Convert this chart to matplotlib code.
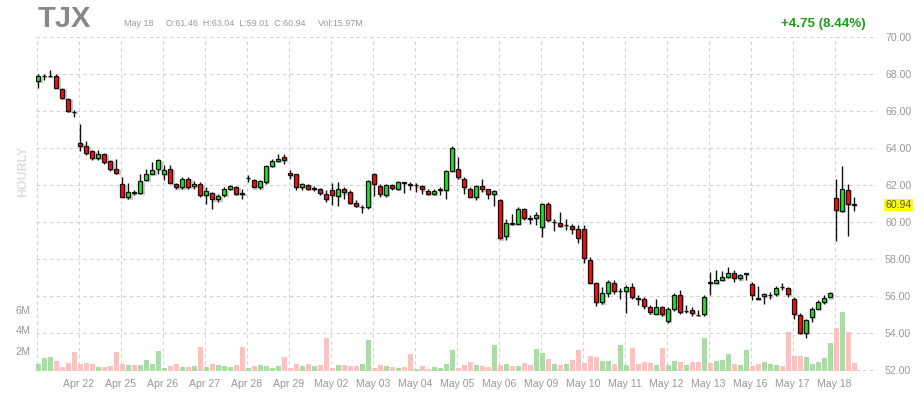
import numpy as np
import matplotlib.pyplot as plt
import matplotlib.transforms as mtransforms

plt.rcParams['font.family'] = ['Liberation Sans', 'DejaVu Sans']

# hourly candles, 7 per session (last session has 4)
days = ['Apr 21', 'Apr 22', 'Apr 25', 'Apr 26', 'Apr 27', 'Apr 28', 'Apr 29',
        'May 02', 'May 03', 'May 04', 'May 05', 'May 06', 'May 09', 'May 10',
        'May 11', 'May 12', 'May 13', 'May 16', 'May 17', 'May 18']
bars_per_day = 7

opens = [67.62, 67.90, 67.90, 67.91, 67.23, 66.69, 65.98,
         64.29, 64.11, 63.84, 63.48, 63.71, 63.31, 62.86,
         62.05, 61.34, 61.62, 61.59, 62.31, 62.63, 62.88,
         62.63, 62.90, 62.09, 61.88, 62.36, 61.95, 62.09,
         61.46, 61.59, 61.23, 61.46, 61.82, 61.91, 61.56,
         62.38, 62.27, 61.88, 62.18, 63.03, 63.31, 63.53,
         62.68, 62.63, 61.91, 62.00, 61.81, 61.82, 61.51,
         61.73, 61.41, 61.78, 61.64, 61.05, 60.82, 60.83,
         62.63, 61.95, 61.46, 62.00, 61.82, 62.15, 62.05,
         61.99, 61.95, 61.69, 61.51, 61.76, 61.73, 62.77,
         62.90, 62.36, 61.82, 61.37, 61.95, 61.77, 61.51,
         61.19, 59.26, 59.94, 59.93, 60.74, 60.21, 60.25,
         59.75, 61.01, 60.01, 59.98, 59.83, 59.78, 59.62,
         59.62, 57.98, 56.72, 55.66, 56.15, 56.72, 56.28,
         56.29, 56.47, 55.88, 55.84, 55.39, 55.06, 55.39,
         54.66, 55.33, 56.05, 55.20, 55.24, 54.98, 55.06,
         56.75, 56.69, 56.90, 57.04, 57.26, 56.96, 57.22,
         56.65, 55.88, 56.00, 56.04, 56.11, 56.51, 56.42,
         55.82, 54.97, 54.02, 54.88, 55.33, 55.69, 55.93,
         61.30, 60.61, 61.73, 60.96]
highs = [68.04, 68.04, 68.22, 68.00, 67.26, 66.74, 66.05,
         65.34, 64.38, 63.93, 63.89, 63.75, 63.35, 63.41,
         62.42, 62.12, 61.73, 62.63, 62.90, 63.26, 63.44,
         63.08, 63.08, 62.12, 62.45, 62.45, 62.23, 62.18,
         61.91, 61.64, 61.55, 61.91, 62.03, 61.98, 61.77,
         62.54, 62.36, 62.27, 63.08, 63.40, 63.68, 63.68,
         62.81, 62.63, 62.12, 62.09, 61.95, 61.86, 61.73,
         62.12, 62.18, 61.88, 61.73, 61.19, 60.92, 62.27,
         62.66, 62.09, 62.09, 62.09, 62.23, 62.18, 62.18,
         62.12, 62.00, 61.77, 61.77, 61.88, 62.81, 64.11,
         63.53, 62.45, 61.88, 62.00, 62.36, 61.82, 61.73,
         61.28, 60.20, 60.47, 60.83, 60.79, 60.38, 60.56,
         61.05, 61.10, 60.20, 60.56, 60.20, 59.93, 59.84,
         59.84, 58.12, 56.77, 56.50, 56.86, 56.86, 56.42,
         56.59, 56.69, 56.05, 55.96, 55.51, 55.87, 55.46,
         55.39, 56.15, 56.32, 55.51, 55.42, 55.24, 56.05,
         57.31, 57.41, 57.37, 57.58, 57.44, 57.19, 57.26,
         56.77, 56.54, 56.15, 56.23, 56.54, 56.72, 56.50,
         55.96, 55.10, 54.74, 55.42, 55.78, 56.05, 56.23,
         62.36, 63.04, 62.05, 61.34]
lows = [67.28, 67.71, 67.86, 67.25, 66.69, 65.98, 65.69,
        63.85, 63.62, 63.39, 63.35, 63.17, 62.77, 62.59,
        61.34, 61.28, 61.46, 61.55, 62.25, 62.60, 62.63,
        62.27, 62.12, 61.77, 61.82, 61.82, 61.82, 61.37,
        61.01, 60.74, 61.10, 61.37, 61.73, 61.46, 61.28,
        62.18, 61.88, 61.82, 62.09, 62.98, 63.28, 63.17,
        62.36, 61.73, 61.73, 61.73, 61.69, 61.46, 61.10,
        60.92, 60.86, 61.23, 61.00, 60.83, 60.50, 60.74,
        61.41, 61.37, 61.37, 61.73, 61.73, 61.59, 61.73,
        61.64, 61.55, 61.46, 61.46, 61.46, 61.28, 62.77,
        62.36, 61.55, 61.34, 61.19, 61.64, 61.23, 60.86,
        59.10, 59.03, 59.84, 59.89, 60.14, 59.93, 59.84,
        59.20, 60.02, 59.53, 59.75, 59.57, 59.35, 58.85,
        57.77, 56.69, 55.46, 55.57, 55.96, 56.11, 55.87,
        55.10, 55.82, 55.51, 55.33, 55.03, 55.03, 54.92,
        54.52, 55.21, 55.06, 55.10, 54.92, 54.92, 54.92,
        56.05, 56.69, 56.86, 57.00, 56.77, 56.86, 56.90,
        55.78, 55.82, 55.57, 55.87, 56.00, 56.32, 55.96,
        54.79, 53.97, 53.71, 54.61, 55.28, 55.60, 55.93,
        59.01, 60.55, 59.24, 60.61]
closes = [67.89, 67.92, 67.92, 67.28, 66.74, 66.02, 65.96,
          64.11, 63.75, 63.48, 63.71, 63.26, 62.90, 62.66,
          61.37, 61.61, 61.60, 62.23, 62.63, 62.81, 63.35,
          62.85, 62.12, 61.88, 62.36, 61.91, 62.09, 61.46,
          61.69, 61.23, 61.41, 61.77, 61.97, 61.55, 61.54,
          62.40, 61.88, 62.23, 63.03, 63.31, 63.44, 63.39,
          62.58, 61.91, 62.05, 61.82, 61.83, 61.59, 61.28,
          61.46, 61.78, 61.61, 61.05, 60.86, 60.84, 62.23,
          62.09, 61.51, 62.00, 61.86, 62.18, 62.13, 62.03,
          62.01, 61.77, 61.51, 61.67, 61.78, 62.76, 64.04,
          62.42, 61.88, 61.37, 61.95, 61.77, 61.55, 61.67,
          59.12, 59.98, 59.92, 60.69, 60.25, 60.19, 60.38,
          60.96, 60.11, 60.03, 59.80, 59.85, 59.62, 59.17,
          58.09, 56.72, 55.69, 56.15, 56.77, 56.29, 56.30,
          56.47, 55.96, 55.86, 55.46, 55.12, 55.39, 55.01,
          55.28, 56.05, 55.15, 55.22, 55.10, 54.96, 55.96,
          56.73, 56.86, 57.04, 57.26, 56.99, 57.14, 57.24,
          56.08, 55.86, 56.11, 56.06, 56.42, 56.49, 56.11,
          55.03, 54.02, 54.70, 55.28, 55.69, 55.91, 56.18,
          60.65, 61.77, 60.97, 60.94]
volumes = [0.65, 1.24, 1.34, 0.95, 0.36, 0.75, 1.83,
           0.65, 0.75, 0.65, 0.36, 0.36, 0.46, 1.83,
           0.65, 0.56, 0.56, 0.56, 1.05, 0.65, 1.93,
           0.26, 0.46, 0.65, 0.36, 0.36, 0.46, 2.32,
           0.36, 0.65, 0.56, 0.46, 0.36, 0.56, 2.32,
           0.26, 0.46, 0.56, 0.46, 0.26, 0.46, 1.34,
           0.26, 0.65, 0.46, 0.65, 0.46, 0.56, 3.20,
           0.26, 0.56, 0.56, 0.46, 0.46, 0.65, 3.00,
           0.26, 0.56, 0.46, 0.36, 0.26, 0.36, 1.63,
           0.16, 0.46, 0.16, 0.36, 0.26, 0.65, 2.03,
           0.26, 0.56, 0.85, 0.56, 0.46, 0.36, 2.52,
           0.56, 0.65, 0.46, 0.46, 0.75, 0.56, 2.12,
           1.73, 1.14, 0.65, 0.56, 0.65, 1.05, 2.03,
           0.75, 1.44, 1.34, 0.95, 0.95, 0.65, 2.52,
           0.56, 2.22, 0.65, 0.85, 0.75, 0.56, 2.22,
           0.56, 0.95, 0.85, 0.56, 0.85, 0.85, 3.20,
           0.75, 0.95, 1.05, 1.63, 0.65, 0.56, 2.03,
           0.46, 0.65, 0.85, 0.65, 0.56, 0.46, 3.79,
           1.44, 1.44, 1.34, 0.65, 0.85, 1.24, 2.71,
           4.18, 5.75, 3.79, 0.75]

price_ticks = [52, 54, 56, 58, 60, 62, 64, 66, 68, 70]
vol_ticks = [2, 4, 6]
last_price = 60.94

o = np.array(opens)
c = np.array(closes)
h = np.array(highs)
l = np.array(lows)
v = np.array(volumes)
idx = np.arange(len(o))
up = c >= o

fig = plt.figure(figsize=(9.24, 4.0), dpi=100)
rect = [36 / 924, 29 / 400, 841 / 924, 334 / 400]

ax = fig.add_axes(rect)
ax_vol = fig.add_axes(rect, sharex=ax)
ax_vol.patch.set_visible(False)

grid_kw = dict(color='#d2d2d2', linestyle=(0, (3, 3)), linewidth=0.8)

# price panel
ax.set_xlim(-0.38, 139.8)
ax.set_ylim(51.95, 70.02)
ax.set_yticks(price_ticks)
ax.set_yticklabels([f'{t:.2f}' for t in price_ticks])
ax.yaxis.tick_right()
day_pos = [d * bars_per_day - 0.25 for d in range(len(days))]
ax.set_xticks(day_pos)
ax.set_xticklabels([''] + days[1:])
ax.tick_params(length=0, colors='#999999', labelsize=7.6)
ax.tick_params(axis='y', pad=5.8)
ax.tick_params(axis='x', pad=6)
ax.grid(True, **grid_kw)
ax.set_axisbelow(True)
for s in ax.spines.values():
    s.set_visible(False)

# wicks and bodies
ax.vlines(idx, l, h, color='#111111', linewidth=1.0, zorder=3)
body_col = np.where(up, '#22e022', '#ee1111')
ax.bar(idx + 0.18, np.abs(c - o), bottom=np.minimum(o, c) - 0.06, width=0.72,
       color='#c8c8c8', edgecolor='#c8c8c8', linewidth=0.8, zorder=2.5)
ax.bar(idx, np.abs(c - o), bottom=np.minimum(o, c), width=0.72,
       color=body_col, edgecolor='#111111', linewidth=0.9, zorder=4)

# volume panel
vol_col = np.where(up, '#a9dea2', '#ffc0c0')
ax_vol.bar(idx, v, width=0.8, color=vol_col, linewidth=0, zorder=2)
ax_vol.set_ylim(0, 32.75)
ax_vol.set_yticks(vol_ticks)
ax_vol.set_yticklabels([f'{t}M' for t in vol_ticks])
ax_vol.tick_params(length=0, colors='#999999', labelsize=7.8, pad=4)
ax_vol.tick_params(axis='x', labelbottom=False)
for s in ax_vol.spines.values():
    s.set_visible(False)

# last price tag
tr = mtransforms.blended_transform_factory(ax.transAxes, ax.transData)
ax.text(1.0 + 8.5 / 841, last_price, f'{last_price:.2f}', transform=tr,
        ha='left', va='center', fontsize=7.6, color='#555555',
        bbox=dict(boxstyle='square,pad=0.12', facecolor='#ffff00', edgecolor='none'))

# header
fig.text(38 / 924, 1 - 19 / 400, 'TJX', fontsize=21, fontweight='bold',
         color='#888888', va='center', ha='left')
fig.text(124 / 924, 1 - 24 / 400,
         'May 18     O:61.46  H:63.04  L:59.01  C:60.94     Vol:15.97M',
         fontsize=6.4, color='#999999', va='center', ha='left',
         family=['Liberation Sans Narrow', 'Liberation Sans'])
fig.text(866 / 924, 1 - 24 / 400, '+4.75 (8.44%)', fontsize=9.6,
         fontweight='bold', color='#1a9e1a', va='center', ha='right')
fig.text(23 / 924, 1 - 171 / 400, 'HOURLY', rotation=90, fontsize=8.9,
         fontweight='bold', color='#dedede', va='center', ha='center')

fig.savefig('out.png', dpi=100)
